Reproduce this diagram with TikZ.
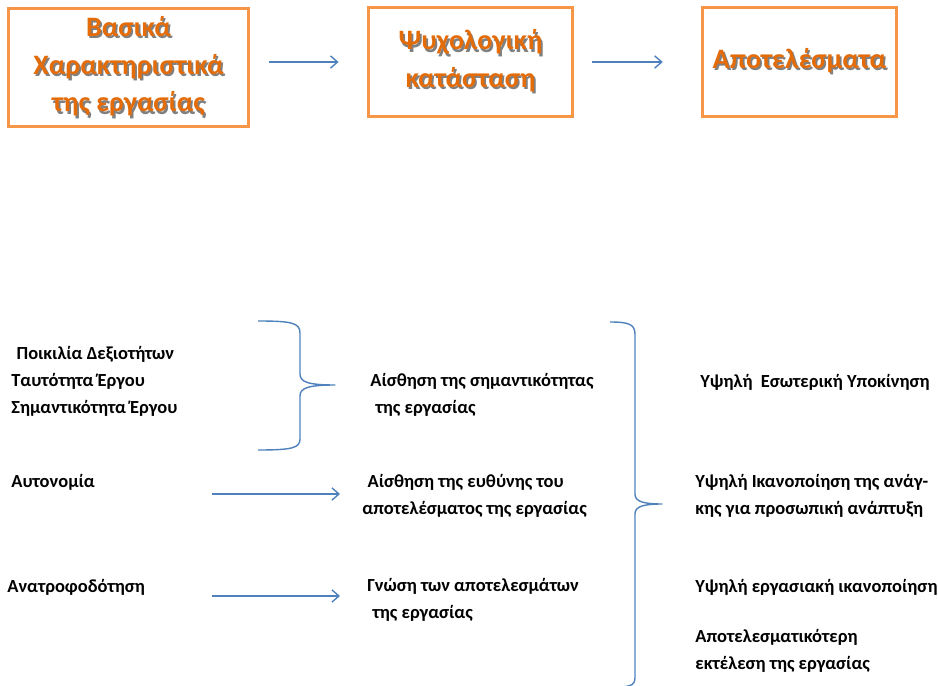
\documentclass[tikz,border=0pt]{standalone}
\usepackage{fontspec}
\setmainfont{Carlito}
\usetikzlibrary{arrows.meta,positioning,calc}
\definecolor{boxorange}{HTML}{F79646}
\definecolor{titleorange}{HTML}{E36C09}
\definecolor{lineblue}{HTML}{4F81BD}
\newcommand{\shtitle}[1]{\makebox[0pt][l]{\hspace{1pt}\raisebox{-1.3pt}{\color{black!50}#1}}#1}
\tikzset{
  headbox/.style={draw=boxorange,line width=1.7pt,align=center,font=\fontsize{16}{21.5}\selectfont\bfseries,text=titleorange},
  item/.style={anchor=west,inner sep=0pt,align=left,font=\fontsize{10.5}{15.3}\selectfont\bfseries},
  arr/.style={-{Straight Barb[length=4pt,width=7pt]},line width=0.8pt,draw=lineblue},
  brace/.style={line width=0.8pt,draw=lineblue,line join=round}
}
\begin{document}
\begin{tikzpicture}[x=0.02cm,y=-0.02cm]
\useasboundingbox (0,0) rectangle (938,686);
% header row
\node[headbox,minimum width=4.82cm,minimum height=2.38cm] (basic) at (128.5,67.5)
  {\shtitle{Βασικά}\\ \shtitle{Χαρακτηριστικά}\\ \shtitle{της εργασίας}};
\node[headbox,minimum width=4.1cm,minimum height=2.2cm] (psych) at (470.5,62)
  {\shtitle{Ψυχολογική}\\ \shtitle{κατάσταση}};
\node[headbox,minimum width=3.9cm,minimum height=2.2cm] (result) at (799.5,62)
  {\shtitle{Αποτελέσματα}};
\draw[arr,shorten <=10.8pt,shorten >=15.9pt] (basic.east |- psych.west) -- (psych.west);
\draw[arr,shorten <=10.2pt,shorten >=21.5pt] (psych.east) -- (result.west);

% characteristics
\node[item] (core) at (11,381) {\hspace{3pt}Ποικιλία Δεξιοτήτων\\Ταυτότητα Έργου\\Σημαντικότητα Έργου};
\node[item] (auton) at (11,482) {Αυτονομία};
\node[item] (feedb) at (7,587) {Ανατροφοδότηση};

% psychological states
\node[item] (mean) at (370,395) {Αίσθηση της σημαντικότητας\\\hspace{3pt}της εργασίας};
\node[item] (resp) at (362,496) {\hspace{3pt}Αίσθηση της ευθύνης του\\αποτελέσματος της εργασίας};
\node[item] (know) at (367,600) {Γνώση των αποτελεσμάτων\\\hspace{3pt}της εργασίας};

% outcomes
\node[item] (motiv) at (700,382) {Υψηλή\ \ Εσωτερική Υποκίνηση};
\node[item] (growth) at (695,496) {Υψηλή Ικανοποίηση της ανάγ-\\κης για προσωπική ανάπτυξη};
\node[item] (satisf) at (695,587) {Υψηλή εργασιακή ικανοποίηση};
\node[item] (perf) at (695,651) {Αποτελεσματικότερη\\εκτέλεση της εργασίας};

% arrows
\coordinate (autS) at (212,494);
\coordinate (autE) at (340,494);
\coordinate (fbS) at (212,596);
\coordinate (fbE) at (340,596);
\draw[arr] (autS) -- (autE);
\draw[arr] (fbS) -- (fbE);

% braces
\draw[brace] (258,321) .. controls (292,321) and (300,323) .. (300,333) -- (300,374)
  .. controls (300,382) and (308,385) .. (335,385)
  .. controls (308,385) and (300,388) .. (300,396) -- (300,439)
  .. controls (300,448) and (292,450) .. (258,450);
\draw[brace] (610,322) .. controls (628,322) and (635,324) .. (635,334) -- (635,494)
  .. controls (635,501) and (642,504) .. (662,504)
  .. controls (642,504) and (635,507) .. (635,514) -- (635,678)
  .. controls (635,684) and (632,686) .. (622,687);
\end{tikzpicture}
\end{document}
